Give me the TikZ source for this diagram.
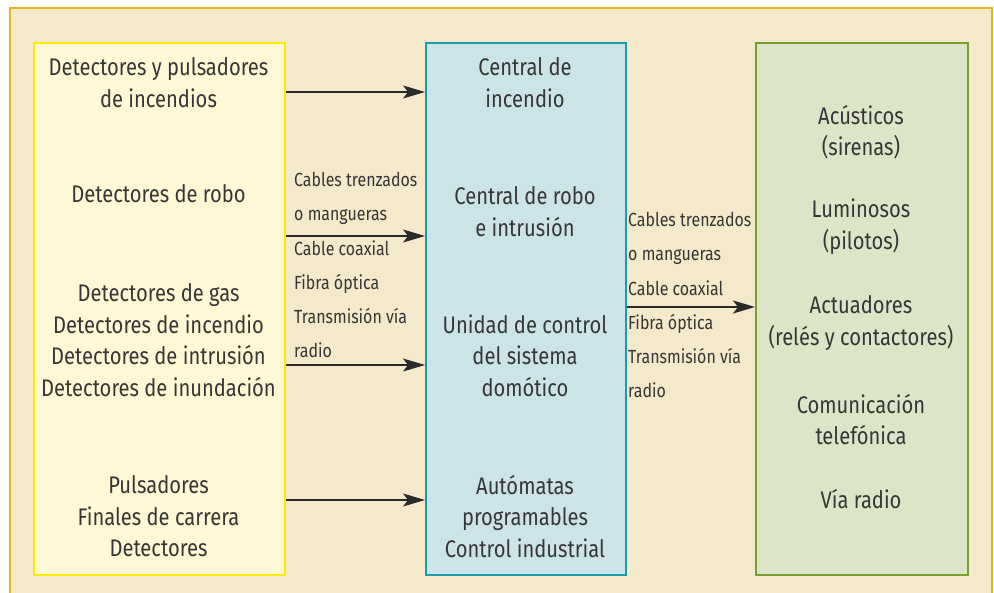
\documentclass[tikz,border=0pt]{standalone}
\usepackage{fontspec}
\setmainfont{Fira Sans}[FakeStretch=0.84]
\usetikzlibrary{arrows.meta}
\definecolor{bgfill}{HTML}{F5E9CB}
\definecolor{bgline}{HTML}{E2B52A}
\definecolor{yfill}{HTML}{FFF8D6}
\definecolor{yline}{HTML}{FFEA00}
\definecolor{cfill}{HTML}{CCE4E8}
\definecolor{cline}{HTML}{1A9CAC}
\definecolor{gfill}{HTML}{DDE5C8}
\definecolor{gline}{HTML}{78A030}
\definecolor{txt}{HTML}{363636}
\definecolor{arrline}{HTML}{2A2A2A}
\tikzset{
  box/.style={draw, line width=2pt, minimum height=532pt, inner sep=0pt, anchor=north west},
  maintxt/.style={text=txt, font=\fontsize{24}{31.5}\selectfont, align=center, inner sep=0pt},
  lbl/.style={text=txt, font=\fontsize{19}{34.3}\selectfont, align=left, inner sep=0pt, anchor=north west},
  arr/.style={draw=arrline, line width=1.3pt, -{Stealth[length=22pt,width=13pt,inset=5pt]}}
}
\begin{document}
\begin{tikzpicture}[x=1pt,y=-1pt]
\useasboundingbox (0,0) rectangle (994,593);
\fill[white] (0,0) rectangle (994,593);
\draw[fill=bgfill, draw=bgline, line width=1.2pt] (10,8) rectangle (992,610);
% boxes
\node[box, fill=yfill, draw=yline, minimum width=251pt] (yb) at (33,42) {};
\node[box, fill=cfill, draw=cline, minimum width=200pt] (cb) at (425,42) {};
\node[box, fill=gfill, draw=gline, minimum width=212pt] (gb) at (755,42) {};
% left texts
\node[maintxt] (y1) at (158.5,82.5) {Detectores y pulsadores\\de incendios};
\node[maintxt] (y2) at (158.5,194) {Detectores de robo};
\node[maintxt] (y3) at (158.5,340) {Detectores de gas\\Detectores de incendio\\Detectores de intrusión\\Detectores de inundación};
\node[maintxt] (y4) at (158.5,516.5) {Pulsadores\\Finales de carrera\\Detectores};
% middle texts
\node[maintxt] (c1) at (525,82.5) {Central de\\incendio};
\node[maintxt] (c2) at (525,211.5) {Central de robo\\e intrusión};
\node[maintxt] (c3) at (525,355.5) {Unidad de control\\del sistema\\domótico};
\node[maintxt] (c4) at (525,516.5) {Autómatas\\programables\\Control industrial};
% right texts
\node[maintxt] (g1) at (861,132) {Acústicos\\(sirenas)};
\node[maintxt] (g2) at (861,226.5) {Luminosos\\(pilotos)};
\node[maintxt] (g3) at (861,323) {Actuadores\\(relés y contactores)};
\node[maintxt] (g4) at (861,419.5) {Comunicación\\telefónica};
\node[maintxt] (g5) at (861,499) {Vía radio};
% connector labels
\node[lbl] (l1) at (294,172) {Cables trenzados\\o mangueras\\Cable coaxial\\Fibra óptica\\Transmisión vía\\radio};
\node[lbl] (l2) at (628,212) {Cables trenzados\\o mangueras\\Cable coaxial\\Fibra óptica\\Transmisión vía\\radio};
% arrows
\coordinate (a1) at (0,92);
\coordinate (a2) at (0,236);
\coordinate (a3) at (0,365);
\coordinate (a4) at (0,500);
\coordinate (a5) at (0,307);
\draw[arr] (yb.east |- a1) -- (cb.west |- a1);
\draw[arr] (yb.east |- a2) -- (cb.west |- a2);
\draw[arr] (yb.east |- a3) -- (cb.west |- a3);
\draw[arr] (yb.east |- a4) -- (cb.west |- a4);
\draw[arr] (cb.east |- a5) -- (gb.west |- a5);
\end{tikzpicture}
\end{document}
